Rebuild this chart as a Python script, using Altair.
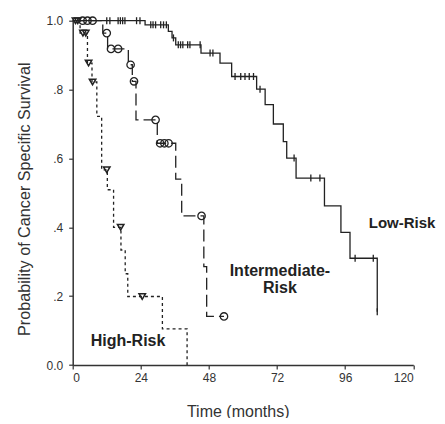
import altair as alt
import pandas as pd

# ---- Kaplan-Meier step data (time in months, survival probability) ----
low_t = [0, 25.5, 33.7, 35.0, 36.3, 45.2, 51.9, 56.0, 64.8, 67.8, 70.7, 74.2, 75.4, 78.7, 88.7, 94.5, 97.7, 107.3]
low_s = [1.0, 0.988, 0.969, 0.950, 0.930, 0.906, 0.877, 0.838, 0.801, 0.756, 0.700, 0.649, 0.601, 0.543, 0.462, 0.385, 0.310, 0.155]

int_t = [0, 10.6, 12.3, 19.6, 21.0, 22.3, 29.8, 36.3, 38.4, 46.2, 47.2, 53.3]
int_s = [1.0, 0.964, 0.918, 0.872, 0.824, 0.712, 0.644, 0.540, 0.433, 0.286, 0.141, 0.141]

high_t = [0, 2.6, 5.2, 6.8, 8.5, 10.2, 12.2, 14.4, 17.0, 18.5, 19.4, 31.6, 40.3]
high_s = [1.0, 0.964, 0.877, 0.822, 0.722, 0.567, 0.509, 0.400, 0.334, 0.265, 0.199, 0.105, 0.0]

# ---- censoring marks ----
low_ct = [12.0, 13.1, 16.0, 16.8, 17.6, 18.4, 22.5, 23.7,
          27.5, 28.3, 29.2, 31.0, 32.0, 33.0, 35.5,
          37.2, 38.0, 38.8, 40.5, 41.3, 44.9, 48.4, 49.4,
          57.2, 59.2, 60.7, 62.2, 63.7, 66.0, 78.0, 83.9, 87.1, 99.5, 105.9, 107.3]
low_cs = [1.0, 1.0, 1.0, 1.0, 1.0, 1.0, 1.0, 1.0,
          0.988, 0.988, 0.988, 0.988, 0.988, 0.988, 0.950,
          0.930, 0.930, 0.930, 0.930, 0.930, 0.930, 0.906, 0.906,
          0.838, 0.838, 0.838, 0.838, 0.838, 0.801, 0.601, 0.543, 0.543, 0.310, 0.310, 0.155]

int_ct = [3.5, 5.2, 7.0, 12.0, 13.5, 16.0, 20.4, 21.6, 29.2, 30.8, 32.3, 33.8, 45.4, 53.3]
int_cs = [1.0, 1.0, 1.0, 0.964, 0.918, 0.918, 0.872, 0.824, 0.712, 0.644, 0.644, 0.644, 0.433, 0.141]

high_ct = [1.0, 1.8, 3.6, 4.6, 5.6, 7.0, 12.0, 16.9, 24.5]
high_cs = [1.0, 1.0, 0.964, 0.964, 0.877, 0.822, 0.567, 0.400, 0.199]

# ---- annotations ----
lab_left = ["Low-Risk"]
lab_left_t = [104.3]
lab_left_s = [0.412]
lab_center = ["Intermediate-", "Risk", "High-Risk"]
lab_center_t = [73.0, 73.0, 19.5]
lab_center_s = [0.273, 0.224, 0.070]

FONT = "Liberation Sans"
INK = "#222222"

x_scale = alt.Scale(domain=[0, 120], nice=False, zero=False)
y_scale = alt.Scale(domain=[0, 1], nice=False)

x_enc = alt.X("t:Q", scale=x_scale,
              axis=alt.Axis(values=[0, 24, 48, 72, 96, 120], title="Time (months)",
                            titleX=165, titleY=51, titleAlign="center",
                            titleBaseline="alphabetic", titleFontSize=16,
                            titleFontWeight="normal", labelPadding=3))
y_enc = alt.Y("s:Q", scale=y_scale,
              axis=alt.Axis(values=[0, 0.2, 0.4, 0.6, 0.8, 1.0],
                            labelExpr="datum.value == 0 ? '0.0' : (datum.value == 1 ? '1.0' : replace(format(datum.value, '.1f'), '0.', '.'))",
                            title="Probability of Cancer Specific Survival",
                            titleX=-48.5, titleY=178, titleAngle=270, titleAlign="center",
                            titleBaseline="middle", titleFontSize=16.2,
                            titleFontWeight="normal", labelPadding=6))

low_df = pd.DataFrame({"t": low_t, "s": low_s})
int_df = pd.DataFrame({"t": int_t, "s": int_s})
high_df = pd.DataFrame({"t": high_t, "s": high_s})

low_line = alt.Chart(low_df).mark_line(interpolate="step-after", color=INK, strokeWidth=1.3).encode(x=x_enc, y=y_enc)
int_line = alt.Chart(int_df).mark_line(interpolate="step-after", color=INK, strokeWidth=1.3,
                                       strokeDash=[12, 5]).encode(x=x_enc, y=y_enc)
high_line = alt.Chart(high_df).mark_line(interpolate="step-after", color=INK, strokeWidth=1.3,
                                         strokeDash=[3, 3]).encode(x=x_enc, y=y_enc)

low_c = alt.Chart(pd.DataFrame({"t": low_ct, "s": low_cs})).mark_point(
    shape="M0,-1V1", size=49, filled=False, color=INK, strokeWidth=1.3, opacity=1).encode(x=x_enc, y=y_enc)
int_c = alt.Chart(pd.DataFrame({"t": int_ct, "s": int_cs})).mark_point(
    shape="circle", size=55, filled=False, color=INK, strokeWidth=1.3, opacity=1).encode(x=x_enc, y=y_enc)
high_c = alt.Chart(pd.DataFrame({"t": high_ct, "s": high_cs})).mark_point(
    shape="triangle-down", size=42, filled=False, color=INK, strokeWidth=1.5, opacity=1).encode(x=x_enc, y=y_enc)

txt_left = alt.Chart(pd.DataFrame({"t": lab_left_t, "s": lab_left_s, "label": lab_left})).mark_text(
    align="left", baseline="middle", font=FONT, fontSize=15, fontWeight="bold", color=INK
).encode(x=x_enc, y=y_enc, text="label:N")
txt_center = alt.Chart(pd.DataFrame({"t": lab_center_t, "s": lab_center_s, "label": lab_center})).mark_text(
    align="center", baseline="middle", font=FONT, fontSize=16, fontWeight="bold", color=INK
).encode(x=x_enc, y=y_enc, text="label:N")

chart = alt.layer(low_line, int_line, high_line, low_c, int_c, high_c, txt_left, txt_center).properties(
    width=340.6, height=344.3,
    autosize=alt.AutoSizeParams(type="none"),
    padding={"left": 64.7, "top": 12.7, "right": 23.7, "bottom": 53},
    background="white",
).configure_view(stroke=None).configure_axis(
    grid=False, domainColor="#333333", domainWidth=1.5, tickColor="#333333", tickWidth=1.2,
    tickSize=4, labelFont=FONT, labelFontSize=12, labelColor="#333333",
    titleFont=FONT, titleColor="#333333"
)

chart.save("out.html", embed_options={"renderer": "svg", "actions": False})
